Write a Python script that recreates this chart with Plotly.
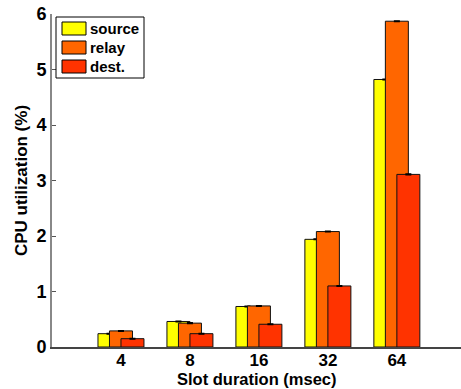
import plotly.graph_objects as go

categories = ["4", "8", "16", "32", "64"]
source = [0.24, 0.46, 0.73, 1.94, 4.82]
relay = [0.29, 0.43, 0.74, 2.08, 5.87]
dest = [0.15, 0.24, 0.41, 1.10, 3.11]
err_source = [0.005, 0.005, 0.005, 0.005, 0.005]
err_relay = [0.005, 0.005, 0.005, 0.005, 0.005]
err_dest = [0.005, 0.005, 0.005, 0.005, 0.005]
y_ticks = [0, 1, 2, 3, 4, 5, 6]
series_names = ["source", "relay", "dest."]
series_colors = ["#FFFF00", "#FF6600", "#FF3300"]
x_title = "Slot duration (msec)"
y_title = "CPU utilization (%)"

xpos = list(range(1, len(categories) + 1))
W, H = 461, 389
ML, MR, MT, MB = 52, 0, 14, 42

series = [
    (series_names[0], source, err_source, series_colors[0], -1/3),
    (series_names[1], relay, err_relay, series_colors[1], -1/6),
    (series_names[2], dest, err_dest, series_colors[2], 0),
]

fig = go.Figure()
for name, vals, err, color, off in series:
    fig.add_trace(go.Bar(
        x=xpos, y=vals, name=name,
        width=1/3, offset=off,
        marker=dict(color=color, line=dict(color="#111111", width=1)),
        error_y=dict(type="data", array=err, visible=True, color="#000000", thickness=1.5, width=3),
    ))

font_family = "Liberation Sans, Arial, Helvetica, sans-serif"

# manual legend (pixel geometry converted to paper coords)
pw, ph = W - ML - MR, H - MT - MB
def px(x):
    return (x - ML) / pw
def py(y):
    return (H - MB - y) / ph

shapes = [dict(type="rect", xref="paper", yref="paper",
               x0=px(56), x1=px(144), y0=py(78), y1=py(17),
               fillcolor="white", line=dict(color="black", width=1), layer="above")]
annotations = []
row_tops = [22, 41, 60]
for name, color, top in zip(series_names, series_colors, row_tops):
    shapes.append(dict(type="rect", xref="paper", yref="paper",
                       x0=px(62), x1=px(86), y0=py(top + 13), y1=py(top),
                       fillcolor=color, line=dict(color="black", width=1), layer="above"))
    annotations.append(dict(xref="paper", yref="paper", x=px(88), y=py(top + 6.5),
                            text=name, showarrow=False, xanchor="left", yanchor="middle",
                            font=dict(family=font_family, size=15, color="black", weight="bold")))

# x-axis title as an annotation just below the tick labels
annotations.append(dict(xref="paper", yref="paper", x=0.5, y=py(H), yanchor="bottom",
                        xanchor="center", text=x_title, showarrow=False, borderpad=0,
                        font=dict(family=font_family, size=16.5, color="black", weight="bold")))

fig.update_layout(
    width=W, height=H,
    barmode="overlay",
    plot_bgcolor="white", paper_bgcolor="white",
    margin=dict(l=ML, r=MR, t=MT, b=MB),
    font=dict(family=font_family, size=18, color="black", weight="bold"),
    showlegend=False,
    shapes=shapes,
    annotations=annotations,
    xaxis=dict(
        range=[0, 5.93], tickvals=xpos, ticktext=categories,
        showgrid=False, zeroline=False, automargin=False,
        showline=True, linecolor="#444444", linewidth=1.5,
        ticks="", tickfont=dict(size=17), ticklabelstandoff=-3,
    ),
    yaxis=dict(
        range=[0, 6], tickvals=y_ticks,
        showgrid=False, zeroline=False, automargin=False,
        showline=True, linecolor="#888888", linewidth=2,
        ticks="inside", ticklen=4, tickcolor="#555555",
        tickfont=dict(size=18),
        title=dict(text=y_title, font=dict(size=17), standoff=4),
    ),
)

fig.write_html(
    "out.html",
    config={"displayModeBar": False},
    post_script="document.body.style.margin='0';document.body.style.overflow='hidden';",
)
